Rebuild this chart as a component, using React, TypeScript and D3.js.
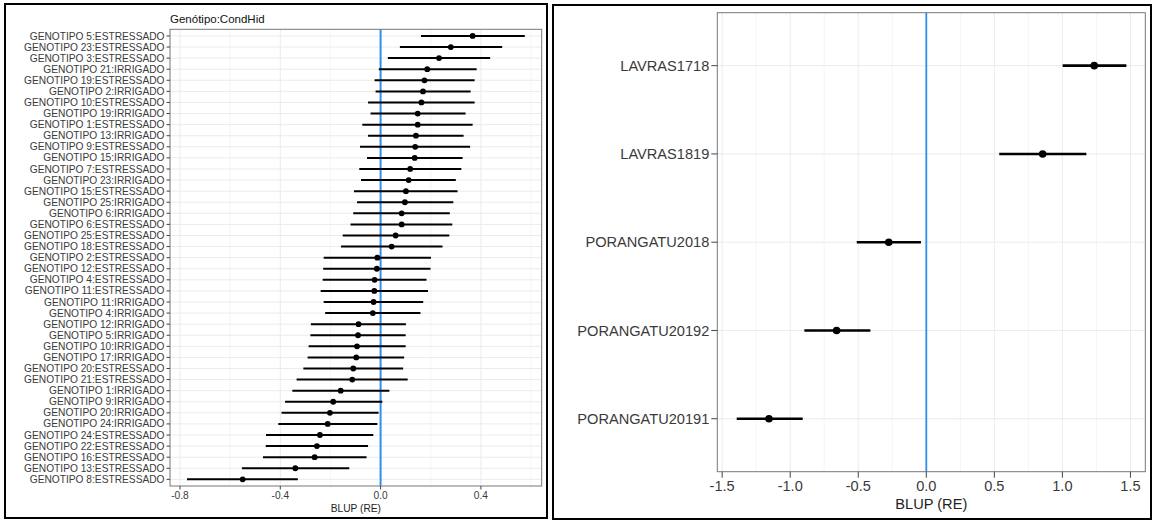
import React from "react";
import * as d3 from "d3";

// ---------- Left panel data (Genótipo:CondHid) ----------
const leftTitle = "Genótipo:CondHid";
const leftLabels = [
  "GENOTIPO 5:ESTRESSADO", "GENOTIPO 23:ESTRESSADO", "GENOTIPO 3:ESTRESSADO", "GENOTIPO 21:IRRIGADO",
  "GENOTIPO 19:ESTRESSADO", "GENOTIPO 2:IRRIGADO", "GENOTIPO 10:ESTRESSADO", "GENOTIPO 19:IRRIGADO",
  "GENOTIPO 1:ESTRESSADO", "GENOTIPO 13:IRRIGADO", "GENOTIPO 9:ESTRESSADO", "GENOTIPO 15:IRRIGADO",
  "GENOTIPO 7:ESTRESSADO", "GENOTIPO 23:IRRIGADO", "GENOTIPO 15:ESTRESSADO", "GENOTIPO 25:IRRIGADO",
  "GENOTIPO 6:IRRIGADO", "GENOTIPO 6:ESTRESSADO", "GENOTIPO 25:ESTRESSADO", "GENOTIPO 18:ESTRESSADO",
  "GENOTIPO 2:ESTRESSADO", "GENOTIPO 12:ESTRESSADO", "GENOTIPO 4:ESTRESSADO", "GENOTIPO 11:ESTRESSADO",
  "GENOTIPO 11:IRRIGADO", "GENOTIPO 4:IRRIGADO", "GENOTIPO 12:IRRIGADO", "GENOTIPO 5:IRRIGADO",
  "GENOTIPO 10:IRRIGADO", "GENOTIPO 17:IRRIGADO", "GENOTIPO 20:ESTRESSADO", "GENOTIPO 21:ESTRESSADO",
  "GENOTIPO 1:IRRIGADO", "GENOTIPO 9:IRRIGADO", "GENOTIPO 20:IRRIGADO", "GENOTIPO 24:IRRIGADO",
  "GENOTIPO 24:ESTRESSADO", "GENOTIPO 22:ESTRESSADO", "GENOTIPO 16:ESTRESSADO", "GENOTIPO 13:ESTRESSADO",
  "GENOTIPO 8:ESTRESSADO",
];
const leftEst = [
  0.367, 0.280, 0.233, 0.186, 0.175, 0.169, 0.163, 0.148, 0.148, 0.141, 0.138, 0.136, 0.118, 0.112,
  0.101, 0.097, 0.084, 0.084, 0.060, 0.044, -0.013, -0.015, -0.024, -0.025, -0.028, -0.031, -0.088,
  -0.090, -0.094, -0.097, -0.109, -0.113, -0.159, -0.189, -0.202, -0.211, -0.242, -0.254, -0.263,
  -0.340, -0.550,
];
const leftLo = [
  0.161, 0.077, 0.029, -0.007, -0.024, -0.020, -0.050, -0.040, -0.073, -0.050, -0.082, -0.054, -0.085,
  -0.078, -0.106, -0.094, -0.109, -0.120, -0.151, -0.158, -0.227, -0.229, -0.231, -0.239, -0.227,
  -0.221, -0.278, -0.280, -0.287, -0.291, -0.308, -0.335, -0.352, -0.381, -0.395, -0.408, -0.457,
  -0.458, -0.469, -0.553, -0.772,
];
const leftHi = [
  0.575, 0.485, 0.437, 0.383, 0.375, 0.359, 0.375, 0.339, 0.367, 0.331, 0.357, 0.327, 0.322, 0.300,
  0.307, 0.290, 0.276, 0.286, 0.274, 0.247, 0.201, 0.199, 0.183, 0.189, 0.170, 0.159, 0.101, 0.100,
  0.100, 0.094, 0.090, 0.108, 0.035, 0.007, -0.008, -0.013, -0.029, -0.050, -0.056, -0.125, -0.330,
];
const leftTicks = [-0.8, -0.4, 0.0, 0.4];
const leftMinor = [-0.6, -0.2, 0.2, 0.6];

// ---------- Right panel data (environments) ----------
const rightLabels = ["LAVRAS1718", "LAVRAS1819", "PORANGATU2018", "PORANGATU20192", "PORANGATU20191"];
const rightEst = [1.234, 0.855, -0.276, -0.659, -1.156];
const rightLo = [1.002, 0.536, -0.511, -0.896, -1.393];
const rightHi = [1.470, 1.176, -0.039, -0.411, -0.908];
const rightTicks = [-1.5, -1.0, -0.5, 0.0, 0.5, 1.0, 1.5];
const rightMinor = [-1.25, -0.75, -0.25, 0.25, 0.75, 1.25];

const axisTitle = "BLUP (RE)";
const FONT = "'Liberation Sans', Arial, sans-serif";
const BLUE = "#2f8ff0";

type PanelProps = {
  labels: string[]; est: number[]; lo: number[]; hi: number[];
  ticks: number[]; minor: number[]; domain: [number, number];
  x0: number; x1: number; y0: number; y1: number;
  fs: number; tickLen: number; lw: number; r: number; blueW: number;
  tickLabelY: number; titleY: number;
};

function Panel(p: PanelProps) {
  const x = d3.scaleLinear().domain(p.domain).range([p.x0, p.x1]);
  const y = d3.scalePoint<string>().domain(p.labels).range([p.y0, p.y1]).padding(0.6);
  const fmt = (t: number) => d3.format(".1f")(t).replace("\u2212", "-");
  return (
    <g>
      <rect x={p.x0} y={p.y0} width={p.x1 - p.x0} height={p.y1 - p.y0} fill="#fff" />
      {p.minor.map((t) => (
        <line key={"m" + t} x1={x(t)} x2={x(t)} y1={p.y0} y2={p.y1} stroke="#f2f2f2" strokeWidth={0.8} />
      ))}
      {p.ticks.map((t) => (
        <line key={"g" + t} x1={x(t)} x2={x(t)} y1={p.y0} y2={p.y1} stroke="#ebebeb" strokeWidth={1} />
      ))}
      {p.labels.map((l) => (
        <line key={"h" + l} x1={p.x0} x2={p.x1} y1={y(l)} y2={y(l)} stroke="#ebebeb" strokeWidth={1} />
      ))}
      <line x1={x(0)} x2={x(0)} y1={p.y0} y2={p.y1} stroke={BLUE} strokeWidth={p.blueW} />
      {p.labels.map((l, i) => (
        <g key={"e" + l}>
          <line x1={x(p.lo[i])} x2={x(p.hi[i])} y1={y(l)} y2={y(l)} stroke="#000" strokeWidth={p.lw} />
          <circle cx={x(p.est[i])} cy={y(l)} r={p.r} fill="#000" />
        </g>
      ))}
      <rect x={p.x0} y={p.y0} width={p.x1 - p.x0} height={p.y1 - p.y0} fill="none" stroke="#777" strokeWidth={1} />
      {p.labels.map((l) => (
        <g key={"yl" + l}>
          <line x1={p.x0 - p.tickLen} x2={p.x0} y1={y(l)} y2={y(l)} stroke="#444" strokeWidth={1} />
          <text x={p.x0 - p.tickLen - 2} y={y(l)} dy="0.35em" textAnchor="end" fontSize={p.fs}
            fill="#3a3a3a" fontFamily={FONT}>{l}</text>
        </g>
      ))}
      {p.ticks.map((t) => (
        <g key={"xl" + t}>
          <line x1={x(t)} x2={x(t)} y1={p.y1} y2={p.y1 + p.tickLen} stroke="#444" strokeWidth={1} />
          <text x={x(t)} y={p.tickLabelY} dy="0.35em" textAnchor="middle" fontSize={p.fs}
            fill="#3a3a3a" fontFamily={FONT}>{fmt(t)}</text>
        </g>
      ))}
      <text x={(p.x0 + p.x1) / 2} y={p.titleY} dy="0.35em" textAnchor="middle" fontSize={p.fs}
        fill="#222" fontFamily={FONT}>{axisTitle}</text>
    </g>
  );
}

export default function App() {
  return (
    <svg width={1153} height={520} style={{ position: "absolute", left: 0, top: 0, background: "#fff" }}>
      <rect x={0} y={0} width={1153} height={520} fill="#fff" />
      {/* Left panel */}
      <rect x={5} y={4} width={542} height={514} fill="#fff" stroke="#000" strokeWidth={2} />
      <text x={170} y={19} dy="0.35em" fontSize={11.5} fill="#111" fontFamily={FONT}>{leftTitle}</text>
      <Panel labels={leftLabels} est={leftEst} lo={leftLo} hi={leftHi}
        ticks={leftTicks} minor={leftMinor} domain={[-0.8398, 0.6425]}
        x0={170} x1={541.7} y0={29.3} y1={486}
        fs={10.2} tickLen={3.5} lw={2} r={2.9} blueW={2}
        tickLabelY={495.5} titleY={508.5} />
      {/* Right panel */}
      <rect x={553} y={5} width={598} height={514} fill="#fff" stroke="#000" strokeWidth={2} />
      <Panel labels={rightLabels} est={rightEst} lo={rightLo} hi={rightHi}
        ticks={rightTicks} minor={rightMinor} domain={[-1.5357, 1.6091]}
        x0={717.3} x1={1145.3} y0={12.7} y1={471.7}
        fs={14.6} tickLen={6} lw={2.6} r={3.8} blueW={1.8}
        tickLabelY={486} titleY={503.5} />
    </svg>
  );
}
